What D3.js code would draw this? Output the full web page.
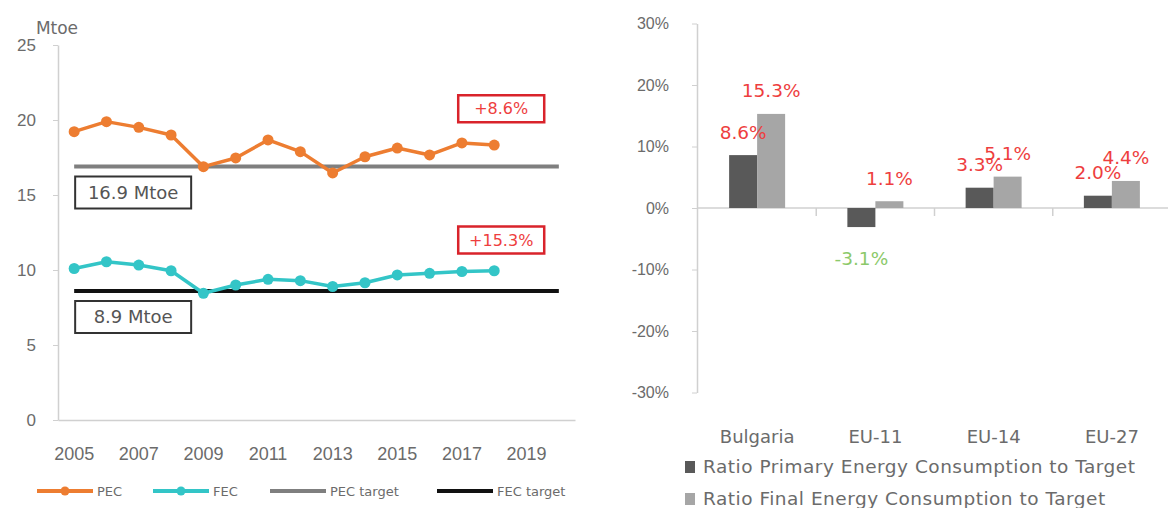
<!DOCTYPE html>
<html>
<head>
<meta charset="utf-8">
<script src="https://cdn.jsdelivr.net/npm/d3@7"></script>
<style>
  html, body { margin: 0; padding: 0; background: #fff; }
  svg { display: block; font-family: "DejaVu Sans", sans-serif; }
</style>
</head>
<body>
<svg id="chart" width="1168" height="508"></svg>
<script>
// ---------- data ----------
const years = ["2005","2006","2007","2008","2009","2010","2011","2012","2013","2014","2015","2016","2017","2018","2019","2020"];
const yearTicks = ["2005","2007","2009","2011","2013","2015","2017","2019"];
const pecYears = ["2005","2006","2007","2008","2009","2010","2011","2012","2013","2014","2015","2016","2017","2018"];
const pec = [19.22, 19.89, 19.51, 19.0, 16.89, 17.47, 18.67, 17.89, 16.47, 17.55, 18.13, 17.67, 18.47, 18.33];
const fec = [10.1, 10.55, 10.33, 9.95, 8.45, 9.0, 9.38, 9.29, 8.9, 9.15, 9.67, 9.78, 9.9, 9.95];
const pecTarget = 16.9;
const fecTarget = 8.6;
const targetLabels = ["16.9 Mtoe", "8.9 Mtoe"];
const changeLabels = ["+8.6%", "+15.3%"];
const leftYTicks = [0, 5, 10, 15, 20, 25];
const leftLegend = ["PEC", "FEC", "PEC target", "FEC target"];

const regions = ["Bulgaria", "EU-11", "EU-14", "EU-27"];
const ratioPEC = [8.6, -3.1, 3.3, 2.0];
const ratioFEC = [15.3, 1.1, 5.1, 4.4];
const rightYTicks = [-30, -20, -10, 0, 10, 20, 30];
const rightLegend = ["Ratio Primary Energy Consumption to Target", "Ratio Final Energy Consumption to Target"];

// ---------- styles ----------
const C = {
  pec: "#ed7d31", fec: "#33c5c7", pecT: "#7f7f7f", fecT: "#111111",
  axis: "#d0d0d0", text: "#6b6b6b", red: "#ee3e3e", green: "#8cc96a",
  dark: "#595959", light: "#a6a6a6", boxRed: "#d9232b"
};

const svg = d3.select("#chart");

// ================= LEFT CHART =================
const xL = d3.scaleBand().domain(years).range([58, 575]);
const yL = d3.scaleLinear().domain([0, 25]).range([420, 45]);
const xc = d => xL(d) + xL.bandwidth() / 2;

// y axis
const gyL = svg.append("g").attr("transform", "translate(58,0)")
  .call(d3.axisLeft(yL).tickValues(leftYTicks).tickSize(5).tickSizeOuter(0).tickPadding(17));
gyL.select(".domain").attr("stroke", C.axis).attr("stroke-width", 1.5);
gyL.selectAll(".tick line").attr("stroke", C.axis);
gyL.selectAll(".tick text").attr("fill", C.text).style("font-size", "17px");

// x axis
const gxL = svg.append("g").attr("transform", "translate(0,420)")
  .call(d3.axisBottom(xL).tickValues(yearTicks).tickSize(0).tickSizeOuter(0).tickPadding(27));
gxL.select(".domain").attr("stroke", C.axis).attr("stroke-width", 1.5);
gxL.selectAll(".tick text").attr("fill", C.text).style("font-size", "18px");

// unit label
svg.append("text").attr("x", 57).attr("y", 34).attr("text-anchor", "middle")
  .attr("fill", C.text).style("font-size", "17px").text("Mtoe");

// target lines
const tLine = (v, col) => svg.append("line")
  .attr("x1", xc(years[0])).attr("x2", xc(years[years.length - 1]))
  .attr("y1", yL(v)).attr("y2", yL(v))
  .attr("stroke", col).attr("stroke-width", 4);
tLine(pecTarget, C.pecT);
tLine(fecTarget, C.fecT);

// series
const line = d3.line().x((d, i) => xc(pecYears[i])).y(d => yL(d));
[[pec, C.pec], [fec, C.fec]].forEach(([vals, col]) => {
  svg.append("path").datum(vals).attr("d", line)
    .attr("fill", "none").attr("stroke", col).attr("stroke-width", 3.5)
    .attr("stroke-linejoin", "round");
  svg.append("g").selectAll("circle").data(vals).join("circle")
    .attr("cx", (d, i) => xc(pecYears[i])).attr("cy", d => yL(d))
    .attr("r", 5.5).attr("fill", col);
});

// target boxes
[[pecTarget, targetLabels[0]], [fecTarget, targetLabels[1]]].forEach(([v, t]) => {
  const bx = xc(years[0]) + 1, by = yL(v) + 10;
  svg.append("rect").attr("x", bx).attr("y", by).attr("width", 116).attr("height", 32)
    .attr("fill", "#fff").attr("stroke", "#333").attr("stroke-width", 2);
  svg.append("text").attr("x", bx + 58).attr("y", by + 16).attr("dy", "0.35em")
    .attr("text-anchor", "middle").attr("fill", "#555").style("font-size", "18px").text(t);
});

// change boxes
[[yL(20.75), changeLabels[0]], [yL(12), changeLabels[1]]].forEach(([cy, t]) => {
  const cx = xc(pecYears[pecYears.length - 1]) + 7;
  svg.append("rect").attr("x", cx - 43).attr("y", cy - 13.5).attr("width", 86).attr("height", 27)
    .attr("fill", "#fff").attr("stroke", C.boxRed).attr("stroke-width", 2.5);
  svg.append("text").attr("x", cx).attr("y", cy).attr("dy", "0.35em")
    .attr("text-anchor", "middle").attr("fill", C.red).style("font-size", "16px").text(t);
});

// left legend
const legL = [
  { x: 37, col: C.pec, marker: true },
  { x: 153, col: C.fec, marker: true },
  { x: 270, col: C.pecT, marker: false },
  { x: 437, col: C.fecT, marker: false }
];
legL.forEach((d, i) => {
  const g = svg.append("g").attr("transform", `translate(${d.x},491)`);
  g.append("line").attr("x1", 0).attr("x2", 56).attr("stroke", d.col).attr("stroke-width", 4);
  if (d.marker) g.append("circle").attr("cx", 28).attr("r", 4.5).attr("fill", d.col);
  g.append("text").attr("x", 60).attr("dy", "0.35em").attr("fill", C.text)
    .style("font-size", "13px").text(leftLegend[i]);
});

// ================= RIGHT CHART =================
const xR = d3.scaleBand().domain(regions).range([698, 1171]);
const bw = xR.bandwidth();
const xSub = d3.scaleBand().domain(["pec", "fec"]).range([bw / 2 - 28, bw / 2 + 28]);
const yR = d3.scaleLinear().domain([-30, 30]).range([392.5, 23.5]);

const gyR = svg.append("g").attr("transform", "translate(697,0)")
  .call(d3.axisLeft(yR).tickValues(rightYTicks).tickFormat(d => d + "%")
    .tickSize(5).tickSizeOuter(0).tickPadding(23));
gyR.select(".domain").attr("stroke", C.axis).attr("stroke-width", 1.5);
gyR.selectAll(".tick line").attr("stroke", C.axis);
gyR.selectAll(".tick text").attr("fill", C.text).style("font-size", "16px");

// zero axis line and category ticks
svg.append("line").attr("x1", 697).attr("x2", 1168).attr("y1", yR(0)).attr("y2", yR(0))
  .attr("stroke", C.axis).attr("stroke-width", 1.5);
svg.append("g").selectAll("line").data(regions.slice(1)).join("line")
  .attr("x1", d => xR(d)).attr("x2", d => xR(d))
  .attr("y1", yR(0)).attr("y2", yR(0) + 8).attr("stroke", C.axis).attr("stroke-width", 1.5);

// category labels
svg.append("g").selectAll("text").data(regions).join("text")
  .attr("x", d => xR(d) + bw / 2).attr("y", 437).attr("dy", "0.35em")
  .attr("text-anchor", "middle").attr("fill", C.text).style("font-size", "18px").text(d => d);

// bars
const barSeries = [
  { key: "pec", vals: ratioPEC, col: C.dark },
  { key: "fec", vals: ratioFEC, col: C.light }
];
barSeries.forEach(s => {
  svg.append("g").selectAll("rect").data(s.vals).join("rect")
    .attr("x", (d, i) => xR(regions[i]) + xSub(s.key))
    .attr("width", xSub.bandwidth())
    .attr("y", d => Math.min(yR(d), yR(0)))
    .attr("height", d => Math.abs(yR(d) - yR(0)))
    .attr("fill", s.col);
});
barSeries.forEach(s => {
  svg.append("g").selectAll("text").data(s.vals).join("text")
    .attr("x", (d, i) => xR(regions[i]) + xSub(s.key) + xSub.bandwidth() / 2)
    .attr("y", d => d >= 0 ? yR(d) - 23 : yR(d) + 31)
    .attr("dy", "0.35em").attr("text-anchor", "middle")
    .attr("fill", d => d >= 0 ? C.red : C.green)
    .style("font-size", "18.5px")
    .text(d => d.toFixed(1) + "%");
});

// right legend
[C.dark, C.light].forEach((col, i) => {
  const y = 467 + i * 32;
  svg.append("rect").attr("x", 685).attr("y", y - 6).attr("width", 10).attr("height", 12).attr("fill", col);
  svg.append("text").attr("x", 703).attr("y", y).attr("dy", "0.35em")
    .attr("fill", C.text).style("font-size", "18.5px").style("letter-spacing", "0.5px")
    .text(rightLegend[i]);
});
</script>
</body>
</html>
